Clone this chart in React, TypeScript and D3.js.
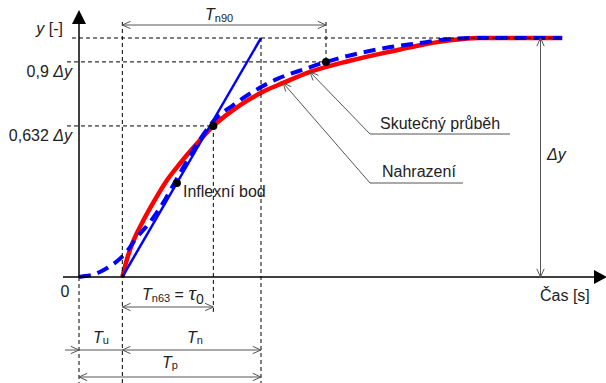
import React from "react";
import * as d3 from "d3";

// Step response: measured curve (red) and its approximation (blue, dashed)
const MEASURED_T = [10, 11, 12.2, 13.4, 14.8, 17.1, 20.3, 23.3, 25.6, 27.9, 31, 35.3, 39.5, 43, 47.1, 53.3, 62.5, 74.1, 78.7, 85.6, 92, 111.5];
const MEASURED_V = [0, 0.07, 0.135, 0.185, 0.235, 0.31, 0.405, 0.475, 0.525, 0.572, 0.632, 0.695, 0.745, 0.78, 0.812, 0.858, 0.905, 0.952, 0.97, 0.99, 1, 1];

const MODEL_T = [0, 1.4, 3, 4.8, 6.5, 8.3, 9.9, 11.3, 12.9, 16.4, 19.4, 21, 24.5, 27.9, 31.4, 35.5, 40.6, 45.9, 51.7, 57, 64.8, 71.8, 78.7, 85.6, 90.2, 111.5];
const MODEL_V = [0, 0.004, 0.008, 0.021, 0.038, 0.059, 0.084, 0.113, 0.155, 0.23, 0.31, 0.36, 0.473, 0.575, 0.66, 0.718, 0.78, 0.83, 0.868, 0.9, 0.937, 0.962, 0.979, 0.996, 1, 1];

// Characteristic times
const TU = 10; // dead time end
const TN_END = 42; // tangent reaches the steady value
const T63 = 31;
const T90 = 57;
const T_INFLEX = 22.6;
const T_DY = 106.5; // position of the Δy dimension
const T_END = 111.5;

// Levels marked on the y axis
const LEVELS = [0.9, 0.632];
const LEVEL_LABELS = ["0,9 ", "0,632 "];

const W = 606;
const H = 383;

const x = d3.scaleLinear().domain([0, 120]).range([79, 599]);
const y = d3.scaleLinear().domain([0, 1]).range([277, 38]);

const tangent = (t: number) => (t - TU) / (TN_END - TU);

const line = d3
  .line<[number, number]>()
  .x((d) => x(d[0]))
  .y((d) => y(d[1]))
  .curve(d3.curveMonotoneX);

const measured = MEASURED_T.map((t, i) => [t, MEASURED_V[i]] as [number, number]);
const model = MODEL_T.map((t, i) => [t, MODEL_V[i]] as [number, number]);

const valueAt = (pts: [number, number][], t: number) => {
  const i = d3.bisector((d: [number, number]) => d[0]).left(pts, t);
  if (i <= 0) return pts[0][1];
  const [t0, v0] = pts[i - 1];
  const [t1, v1] = pts[Math.min(i, pts.length - 1)];
  return t1 === t0 ? v0 : v0 + ((v1 - v0) * (t - t0)) / (t1 - t0);
};

// open "V" arrowhead, ang = direction the arrow points
function head(px: number, py: number, ang: number) {
  const L = 9;
  const s = 0.42;
  const a1 = ang + Math.PI - s;
  const a2 = ang + Math.PI + s;
  return `M${px + L * Math.cos(a1)},${py + L * Math.sin(a1)}L${px},${py}L${px + L * Math.cos(a2)},${py + L * Math.sin(a2)}`;
}

const FONT = "'Liberation Sans', Arial, sans-serif";
const TXT = "#222";
const ARR = "#555";

export default function App() {
  const dash = { stroke: "#000", strokeWidth: 1, strokeDasharray: "4 3", fill: "none" };
  const arr = { stroke: ARR, strokeWidth: 1, fill: "none" };

  const x0 = x(0);
  const xu = x(TU);
  const xn = x(TN_END);
  const x63 = x(T63);
  const x90 = x(T90);
  const y0 = y(0);
  const y1 = y(1);

  const tip1: [number, number] = [x(53.3), y(valueAt(measured, 53.3))];
  const tip2: [number, number] = [x(47.1), y(valueAt(measured, 47.1))];
  const lab1: [number, number] = [370, 134];
  const lab2: [number, number] = [370, 183];
  const ang1 = Math.atan2(tip1[1] - lab1[1], tip1[0] - lab1[0]);
  const ang2 = Math.atan2(tip2[1] - lab2[1], tip2[0] - lab2[0]);

  return (
    <svg
      width={W}
      height={H}
      style={{ position: "absolute", left: 0, top: 0, background: "#fff" }}
      fontFamily={FONT}
    >
      {/* curves */}
      <path d={line(measured) || ""} stroke="#ff0000" strokeWidth={4.5} fill="none" />
      <path d={line(model) || ""} stroke="#0000ff" strokeWidth={4} strokeDasharray="12 7" fill="none" />
      <line
        x1={xu}
        y1={y(tangent(TU))}
        x2={xn}
        y2={y(tangent(TN_END))}
        stroke="#0000ff"
        strokeWidth={2.5}
      />

      {/* guide lines */}
      <line x1={72} y1={y1} x2={x(T_END)} y2={y1} {...dash} />
      {LEVELS.map((lv, i) => (
        <line key={lv} x1={67} y1={y(lv)} x2={i === 0 ? x90 : x63} y2={y(lv)} {...dash} />
      ))}
      <line x1={xu} y1={22} x2={xu} y2={H} {...dash} />
      <line x1={xn} y1={y1} x2={xn} y2={H} {...dash} />
      <line x1={x63} y1={y(0.632)} x2={x63} y2={313} {...dash} />
      <line x1={x0} y1={y0} x2={x0} y2={H} {...dash} />
      <line x1={x90} y1={22} x2={x90} y2={y(0.9)} {...dash} />

      {/* axes */}
      <line x1={x0} y1={y0} x2={x0} y2={22} stroke="#000" strokeWidth={1.5} />
      <polygon points={`${x0 - 7},24 ${x0 + 7},24 ${x0},10`} fill="#000" />
      <line x1={63} y1={y0} x2={596} y2={y0} stroke="#000" strokeWidth={1.5} />
      <polygon points={`594,${y0 - 7} 594,${y0 + 7} 607,${y0}`} fill="#000" />

      {/* points */}
      <circle cx={x(T_INFLEX)} cy={y(tangent(T_INFLEX))} r={4} fill="#000" />
      <circle cx={x63} cy={y(0.632)} r={4} fill="#000" />
      <circle cx={x90} cy={y(0.9)} r={4} fill="#000" />

      {/* dimensions */}
      <line x1={xu} y1={25} x2={x90} y2={25} {...arr} />
      <path d={head(xu, 25, Math.PI)} {...arr} />
      <path d={head(x90, 25, 0)} {...arr} />

      <line x1={xu} y1={307} x2={x63} y2={307} {...arr} />
      <path d={head(xu, 307, Math.PI)} {...arr} />
      <path d={head(x63, 307, 0)} {...arr} />

      <line x1={65} y1={350} x2={xn} y2={350} {...arr} />
      <path d={head(x0, 350, 0)} {...arr} />
      <path d={head(xu, 350, Math.PI)} {...arr} />
      <path d={head(xn, 350, 0)} {...arr} />

      <line x1={x0} y1={377} x2={xn} y2={377} {...arr} />
      <path d={head(x0, 377, Math.PI)} {...arr} />
      <path d={head(xn, 377, 0)} {...arr} />

      <line x1={x(T_DY)} y1={y1} x2={x(T_DY)} y2={y0} {...arr} />
      <path d={head(x(T_DY), y1, -Math.PI / 2)} {...arr} />
      <path d={head(x(T_DY), y0, Math.PI / 2)} {...arr} />

      {/* leaders */}
      <polyline points={`510,${lab1[1]} ${lab1[0]},${lab1[1]} ${tip1[0]},${tip1[1]}`} {...arr} />
      <path d={head(tip1[0], tip1[1], ang1)} {...arr} />
      <polyline points={`463,${lab2[1]} ${lab2[0]},${lab2[1]} ${tip2[0]},${tip2[1]}`} {...arr} />
      <path d={head(tip2[0], tip2[1], ang2)} {...arr} />

      {/* texts */}
      <g fill={TXT} fontSize={16}>
        <text x={63} y={34} textAnchor="end">
          <tspan fontStyle="italic">y</tspan> [-]
        </text>
        {LEVELS.map((lv, i) => (
          <text key={lv} x={72} y={y(lv) + 15} textAnchor="end">
            {LEVEL_LABELS[i]}
            <tspan fontStyle="italic">Δy</tspan>
          </text>
        ))}
        <text x={65} y={297} textAnchor="middle">0</text>
        <text x={540} y={301}>Čas [s]</text>
        <text x={547} y={160} fontStyle="italic">Δy</text>
        <text x={380} y={129}>Skutečný průběh</text>
        <text x={382} y={177}>Nahrazení</text>
        <text x={183} y={197}>Inflexní bod</text>

        <text x={205} y={20}>
          <tspan fontStyle="italic">T</tspan>
          <tspan fontSize={11} dy={2}>n90</tspan>
        </text>
        <text x={142} y={300}>
          <tspan fontStyle="italic">T</tspan>
          <tspan fontSize={11} dy={2}>n63</tspan>
          <tspan dy={-2}> = </tspan>
          <tspan fontStyle="italic" fontSize={21} fontFamily="'Liberation Serif', serif">τ</tspan>
          <tspan fontSize={14} dy={4}>0</tspan>
        </text>
        <text x={93} y={343}>
          <tspan fontStyle="italic">T</tspan>
          <tspan fontSize={11} dy={1}>u</tspan>
        </text>
        <text x={187} y={343}>
          <tspan fontStyle="italic">T</tspan>
          <tspan fontSize={11} dy={1}>n</tspan>
        </text>
        <text x={162} y={368}>
          <tspan fontStyle="italic">T</tspan>
          <tspan fontSize={11} dy={1}>p</tspan>
        </text>
      </g>
    </svg>
  );
}
